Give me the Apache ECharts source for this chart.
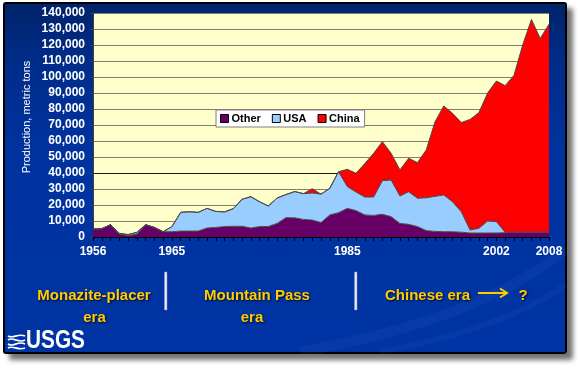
<!DOCTYPE html>
<html>
<head>
<meta charset="utf-8">
<script src="https://cdn.jsdelivr.net/npm/echarts/dist/echarts.min.js"></script>
<style>
html,body{margin:0;padding:0;background:#fff;}
#frame{position:absolute;left:3px;top:2px;width:560px;height:348px;border:2px solid #000;border-radius:3px;
  box-shadow:6px 6px 5px rgba(0,0,0,0.55);
  background:linear-gradient(180deg,#00236a 0%,#002d8c 18%,#0033a0 45%,#0034a4 100%);overflow:hidden;}
#chart{position:absolute;left:0;top:0;width:578px;height:367px;}
</style>
</head>
<body>
<div id="frame"></div>
<div id="chart"></div>
<script>
const years = ['1956','1957','1958','1959','1960','1961','1962','1963','1964','1965',
  '1966','1967','1968','1969','1970','1971','1972','1973','1974','1975',
  '1976','1977','1978','1979','1980','1981','1982','1983','1984','1985',
  '1986','1987','1988','1989','1990','1991','1992','1993','1994','1995',
  '1996','1997','1998','1999','2000','2001','2002','2003','2004','2005',
  '2006','2007','2008'];
const shownYears = ['1956','1965','1985','2002','2008'];
const other = [5000,5200,7700,1900,800,1900,7700,6000,3300,3300,
  3700,3700,3700,5600,6000,6500,6700,6700,5600,6500,
  6600,8500,12100,12000,11000,10600,9000,13800,15200,17900,
  16500,13800,13500,14200,12700,8500,7900,6500,4000,3500,
  3300,3300,3000,2500,2500,2500,2500,2700,3000,3000,
  3000,3000,3000];
const usa = [0,0,0,400,700,1000,0,0,0,3200,
  11700,12100,11700,12300,10000,9200,11000,16900,19600,15500,
  12800,15900,14400,16400,16100,16900,17800,16600,25600,13600,
  11600,11200,11500,21000,22900,17100,20400,17700,20500,21900,
  23000,18700,12800,1900,2900,7500,7100,200,0,0,
  0,0,0];
const china = [0,0,0,0,0,0,0,0,0,0,
  0,0,0,0,0,0,0,0,0,0,
  0,0,0,0,0,2700,0,0,0,10800,
  11700,21000,27300,24400,16700,16300,20900,22300,29900,46600,
  55600,55300,55700,69100,72300,80000,87900,91700,98000,117000,
  133000,121000,130000];
const seriesNames = ['Other','USA','China'];
const seriesColors = ['#660066','#99CCFF','#FF0000'];
const seriesData = [other, usa, china];

const chart = echarts.init(document.getElementById('chart'), null, {renderer:'canvas'});
const gridColors = [];
for (let i = 0; i < 15; i++) gridColors.push(i === 4 ? '#1a1a1a' : '#80806f');

const yellow = '#FFCC00';
const eraFont = 'bold 15px "Liberation Sans", Arial, sans-serif';
function eraText(txt, x, y, align) {
  return {type:'text', z:100, style:{text:txt, x:x, y:y, fill:yellow, font:eraFont,
    textAlign:align || 'center', textVerticalAlign:'middle',
    textShadowColor:'rgba(0,0,0,0.8)', textShadowBlur:2, textShadowOffsetX:1, textShadowOffsetY:1}};
}
function sep(x) {
  return {type:'rect', z:100, shape:{x:x, y:272, width:2.5, height:38},
    style:{fill:'#e8eaf4', stroke:'#8f96bb', lineWidth:0.5}};
}
function wave(y, c1, c2) {
  return {type:'bezierCurve', z:100, shape:{x1:8, y1:y, cpx1:13, cpy1:y+c1, cpx2:18, cpy2:y+c2, x2:25, y2:y},
    style:{stroke:'#fff', lineWidth:1.7, fill:null}};
}
function swoosh(x1,y1,cx1,cy1,cx2,cy2,x2,y2,w,a) {
  return {type:'bezierCurve', z:-5, shape:{x1:x1,y1:y1,cpx1:cx1,cpy1:cy1,cpx2:cx2,cpy2:cy2,x2:x2,y2:y2},
    style:{stroke:'rgba(120,150,230,'+a+')', lineWidth:w, fill:null}};
}

const option = {
  animation:false,
  backgroundColor:'transparent',
  grid:{left:93, top:13, width:456, height:224, show:true, backgroundColor:'#FFFFCC', borderWidth:0},
  legend:{
    left:216, top:110, orient:'horizontal',
    backgroundColor:'#fff', borderColor:'#808080', borderWidth:1, borderRadius:0,
    padding:[3,5,3,4], itemWidth:8, itemHeight:8, itemGap:11, icon:'rect',
    textStyle:{color:'#000', fontWeight:'bold', fontSize:11, fontFamily:'"Liberation Sans", Arial, sans-serif', padding:[0,0,0,-2]},
    data: seriesNames.map((n,i)=>({name:n, itemStyle:{color:seriesColors[i], borderColor:'#000', borderWidth:1}}))
  },
  xAxis:{
    type:'category', data:years, boundaryGap:false,
    axisLine:{show:true, lineStyle:{color:'#000', width:1}},
    axisTick:{show:true, interval:0, length:4, lineStyle:{color:'#000'}},
    axisLabel:{interval:(i,v)=>shownYears.includes(v), color:'#fff', fontWeight:'bold', fontSize:12,
      fontFamily:'"Liberation Sans", Arial, sans-serif', margin:9},
    splitLine:{show:false}
  },
  yAxis:{
    type:'value', min:0, max:140000, interval:10000,
    axisLine:{show:true, lineStyle:{color:'#404040', width:1}},
    axisTick:{show:true, length:3, lineStyle:{color:'#404040'}},
    axisLabel:{color:'#fff', fontWeight:'bold', fontSize:12, margin:8,
      fontFamily:'"Liberation Sans", Arial, sans-serif',
      formatter:v=>v.toLocaleString('en-US')},
    splitLine:{show:true, lineStyle:{color:gridColors, width:1}}
  },
  series: seriesNames.map((n,i)=>({
    name:n, type:'line', stack:'total', data:seriesData[i], symbol:'none',
    lineStyle:{color:'#4a4a4a', width:1},
    itemStyle:{color:seriesColors[i]},
    areaStyle:{color:seriesColors[i], opacity:1}
  })),
  graphic:[
    swoosh(300,352,420,330,500,300,566,250,10,0.07),
    swoosh(380,352,470,335,530,310,566,285,6,0.06),
    {type:'text', z:100, x:27, y:117, rotation:Math.PI/2,
      style:{text:'Production, metric tons', fill:'#fff', font:'11px "Liberation Sans", Arial, sans-serif',
        textAlign:'center', textVerticalAlign:'middle'}},
    eraText('Monazite-placer', 94, 296),
    eraText('era', 94.5, 317.5),
    eraText('Mountain Pass', 257, 296),
    eraText('era', 252, 317.5),
    eraText('Chinese era', 385, 296, 'left'),
    eraText('?', 523, 296),
    sep(164.5), sep(354.5),
    {type:'line', z:100, shape:{x1:478, y1:293, x2:506, y2:293}, style:{stroke:yellow, lineWidth:2}},
    {type:'polyline', z:100, shape:{points:[[500,288.5],[507,293],[500,297.5]]}, style:{stroke:yellow, lineWidth:2, fill:null}},
    wave(336,3,-3), wave(340,-4,4), wave(344,4,-4), wave(348,-3,3),
    {type:'text', z:100, x:26, y:354, scaleX:0.8,
      style:{text:'USGS', x:0, y:0, fill:'#fff',
      font:'bold 26px "Liberation Sans", Arial, sans-serif', textAlign:'left', textVerticalAlign:'bottom'}}
  ]
};
chart.setOption(option);
</script>
</body>
</html>
